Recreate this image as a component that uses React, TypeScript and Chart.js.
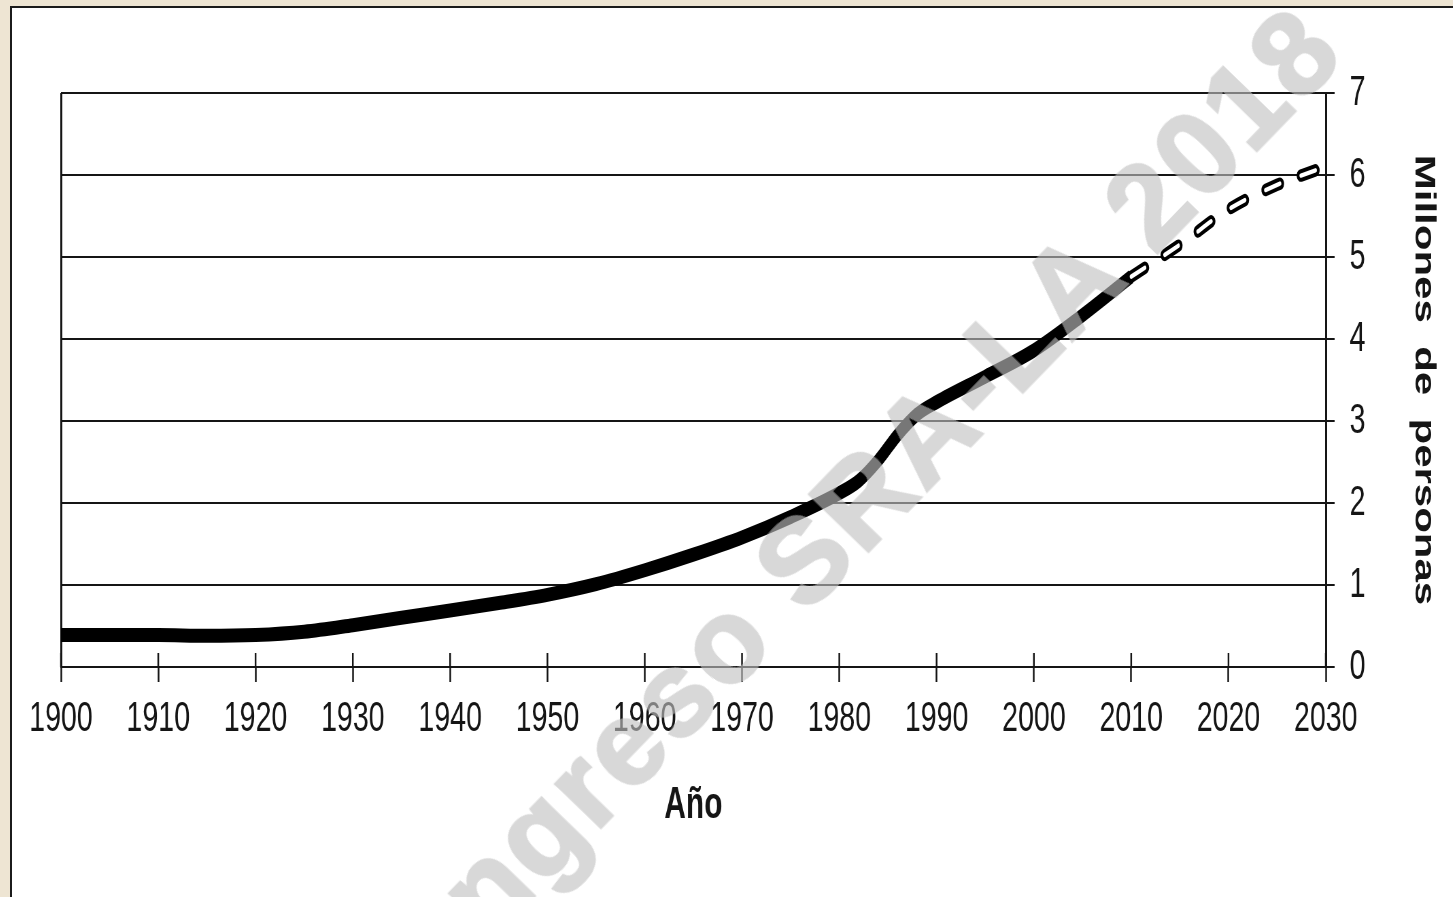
import React, { useEffect, useRef } from 'react';
import { Chart, registerables } from 'chart.js';

Chart.register(...registerables);

// ---- data ----
const years = [1900, 1905, 1910, 1915, 1920, 1925, 1930, 1935, 1940, 1945, 1950, 1955, 1960, 1965, 1970, 1975, 1980, 1982, 1984, 1986, 1988, 1990, 1995, 2000, 2005, 2010];
const population = [0.39, 0.39, 0.39, 0.38, 0.39, 0.43, 0.51, 0.6, 0.69, 0.78, 0.88, 1.01, 1.18, 1.37, 1.58, 1.83, 2.12, 2.27, 2.52, 2.83, 3.08, 3.23, 3.54, 3.86, 4.29, 4.76];
const projYears = [2010, 2015, 2020, 2025, 2029];
const projPopulation = [4.76, 5.15, 5.58, 5.88, 6.06];
const xTicks = [1900, 1910, 1920, 1930, 1940, 1950, 1960, 1970, 1980, 1990, 2000, 2010, 2020, 2030];
const yTicks = [0, 1, 2, 3, 4, 5, 6, 7];
const xTitle = 'Año';
const yTitle = 'Millones  de  personas';
const watermark = 'Congreso SRA-LA 2018';

// ---- layout (the reference is horizontally condensed) ----
const SX = 0.68;
const CANVAS_W = 2119;
const CANVAS_H = 889;
const FONT = "'Liberation Sans', Arial, Helvetica, sans-serif";
const INK = '#151515';

const innerTicks = {
  id: 'innerTicks',
  beforeDatasetsDraw(chart: any) {
    const sx = chart.scales.x;
    const area = chart.chartArea;
    const ctx = chart.ctx;
    ctx.save();
    ctx.strokeStyle = INK;
    ctx.lineWidth = 2.5;
    sx.ticks.forEach((t: any) => {
      const px = sx.getPixelForValue(t.value);
      ctx.beginPath();
      ctx.moveTo(px, area.bottom - 14);
      ctx.lineTo(px, area.bottom);
      ctx.stroke();
    });
    ctx.restore();
  },
};

export default function App() {
  const ref = useRef<HTMLCanvasElement | null>(null);

  useEffect(() => {
    if (!ref.current) return;
    const chart = new Chart(ref.current, {
      type: 'line',
      data: {
        datasets: [
          {
            label: 'proyección (interior)',
            data: projYears.map((x, i) => ({ x, y: projPopulation[i] })),
            borderColor: '#ffffff',
            borderWidth: 4.5,
            borderDash: [22, 32],
            borderCapStyle: 'round',
            pointRadius: 0,
            cubicInterpolationMode: 'monotone',
            order: 0,
          },
          {
            label: 'proyección',
            data: projYears.map((x, i) => ({ x, y: projPopulation[i] })),
            borderColor: '#000000',
            borderWidth: 12.5,
            borderDash: [22, 32],
            borderCapStyle: 'round',
            pointRadius: 0,
            cubicInterpolationMode: 'monotone',
            order: 1,
          },
          {
            label: 'población',
            data: years.map((x, i) => ({ x, y: population[i] })),
            borderColor: '#000000',
            borderWidth: 14,
            borderCapStyle: 'butt',
            pointRadius: 0,
            cubicInterpolationMode: 'monotone',
            order: 2,
          },
        ],
      },
      options: {
        animation: false,
        responsive: false,
        devicePixelRatio: 1,
        layout: { padding: { left: 72, top: 85, right: 0, bottom: 65 } },
        plugins: { legend: { display: false }, tooltip: { enabled: false } },
        scales: {
          x: {
            type: 'linear',
            min: 1900,
            max: 2030,
            afterBuildTicks: (s: any) => {
              s.ticks = xTicks.map((v) => ({ value: v }));
            },
            afterFit: (s: any) => {
              s.height = 165;
            },
            ticks: {
              autoSkip: false,
              maxRotation: 0,
              padding: 12,
              color: INK,
              font: { family: FONT, size: 42 },
              callback: (v: any) => String(v),
            },
            grid: {
              drawOnChartArea: true,
              color: (c: any) => (c.tick && c.tick.value === 1900 ? INK : 'rgba(0,0,0,0)'),
              lineWidth: 3,
              tickColor: INK,
              tickWidth: 2.5,
              tickLength: 15,
            },
            border: { display: true, color: INK, width: 2 },
            title: {
              display: true,
              text: xTitle,
              color: INK,
              font: { family: FONT, size: 44, weight: 'bold' },
              padding: { top: 0, bottom: 0 },
            },
          },
          y: {
            position: 'right',
            min: 0,
            max: 7,
            afterBuildTicks: (s: any) => {
              s.ticks = yTicks.map((v) => ({ value: v }));
            },
            afterFit: (s: any) => {
              s.width = 187;
            },
            ticks: {
              padding: 22,
              color: INK,
              font: { family: FONT, size: 42 },
              callback: (v: any) => String(v),
            },
            grid: {
              color: INK,
              lineWidth: 2,
              tickLength: 13,
              tickColor: INK,
              tickWidth: 2,
            },
            border: { display: true, color: INK, width: 3 },
            title: {
              display: true,
              text: yTitle,
              color: INK,
              font: { family: FONT, size: 42, weight: 'bold' },
              padding: { top: 18, bottom: 0 },
            },
          },
        },
      },
      plugins: [innerTicks],
    } as any);
    return () => chart.destroy();
  }, []);

  return (
    <div
      style={{
        position: 'fixed',
        left: 0,
        top: 0,
        width: 1453,
        height: 897,
        overflow: 'hidden',
        background: '#eee5d3',
      }}
    >
      <div
        style={{
          position: 'absolute',
          left: 10,
          top: 6,
          width: 1470,
          height: 910,
          boxSizing: 'border-box',
          border: '2px solid #1b1b1b',
          background: '#ffffff',
        }}
      />
      <div
        style={{
          position: 'absolute',
          left: 12,
          top: 8,
          width: CANVAS_W,
          height: CANVAS_H,
          transform: `scaleX(${SX})`,
          transformOrigin: '0 0',
        }}
      >
        <canvas
          ref={ref}
          width={CANVAS_W}
          height={CANVAS_H}
          style={{ width: CANVAS_W, height: CANVAS_H, display: 'block' }}
        />
      </div>
      <div
        style={{
          position: 'absolute',
          left: 832,
          top: 530,
          transform: 'translate(-50%, -50%) rotate(-45.9deg)',
          whiteSpace: 'nowrap',
          fontFamily: FONT,
          fontWeight: 'bold',
          fontSize: 118,
          letterSpacing: 4,
          lineHeight: 1,
          color: 'rgb(193,193,193)',
          WebkitTextStroke: '3px rgb(193,193,193)',
          opacity: 0.62,
          pointerEvents: 'none',
        }}
      >
        {watermark}
      </div>
    </div>
  );
}
